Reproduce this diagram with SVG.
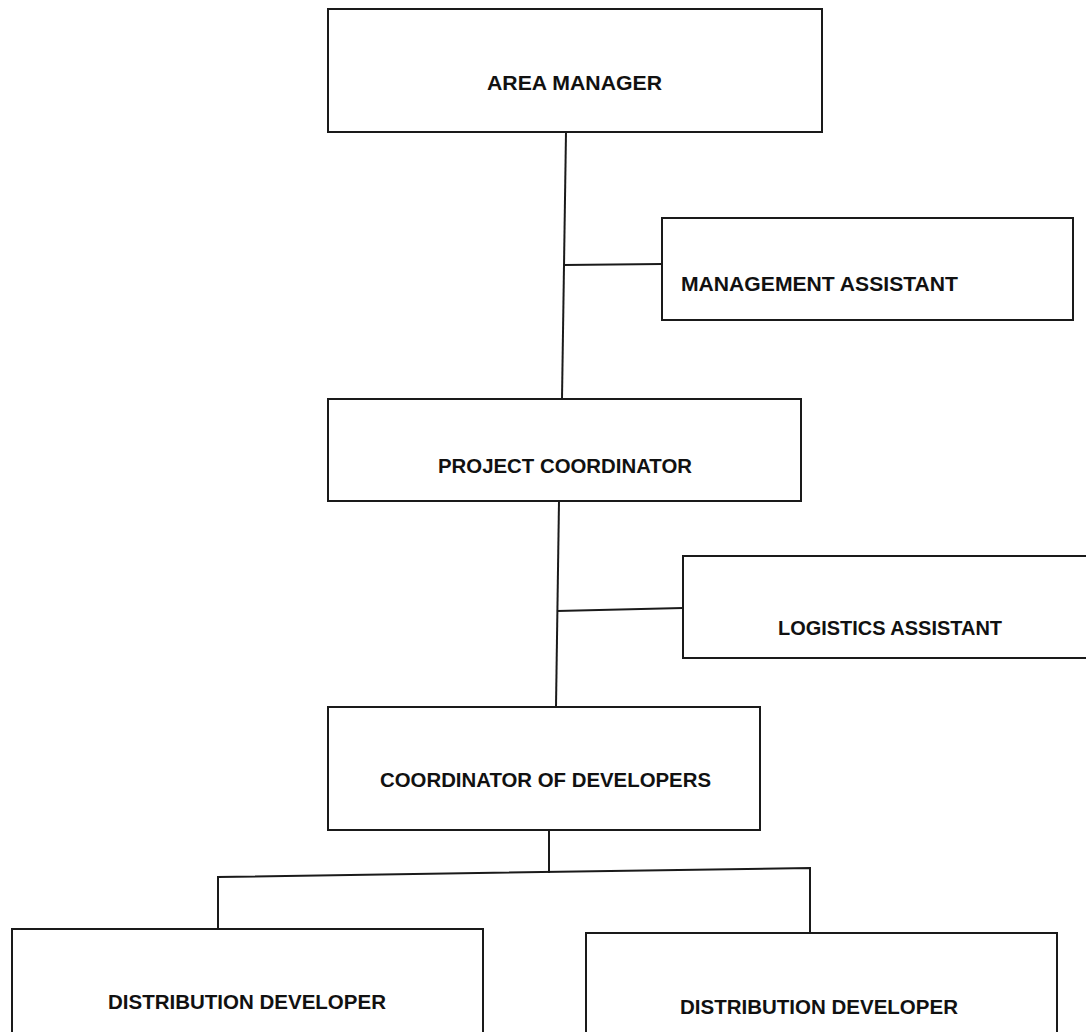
<svg xmlns="http://www.w3.org/2000/svg" width="1086" height="1032" viewBox="0 0 1086 1032">
<style>
.box{fill:#fff;stroke:#1a1a1a;stroke-width:2}
.lbl{font-family:"Liberation Sans","DejaVu Sans",sans-serif;font-weight:bold;font-size:21px;fill:#111}
.ln{stroke:#1a1a1a;stroke-width:2;fill:none}
</style>
<rect width="1086" height="1032" fill="#fff"/>
<g id="connectors">
<line class="ln" x1="566" y1="132" x2="562" y2="399"/>
<line class="ln" x1="564" y1="265" x2="662" y2="264"/>
<line class="ln" x1="559" y1="501" x2="556" y2="707"/>
<line class="ln" x1="557" y1="611" x2="683" y2="608"/>
<line class="ln" x1="549" y1="830" x2="549" y2="873"/>
<polyline class="ln" points="218,929 218,877 810,868 810,933"/>
</g>
<g id="area-manager">
<rect class="box" x="328" y="9" width="494" height="123"/>
<text class="lbl" x="487" y="90" textLength="175" lengthAdjust="spacingAndGlyphs">AREA MANAGER</text>
</g>
<g id="management-assistant">
<rect class="box" x="662" y="218" width="411" height="102"/>
<text class="lbl" x="681" y="291" textLength="277" lengthAdjust="spacingAndGlyphs">MANAGEMENT ASSISTANT</text>
</g>
<g id="project-coordinator">
<rect class="box" x="328" y="399" width="473" height="102"/>
<text class="lbl" x="438" y="473" textLength="254" lengthAdjust="spacingAndGlyphs">PROJECT COORDINATOR</text>
</g>
<g id="logistics-assistant">
<rect class="box" x="683" y="556" width="410" height="102"/>
<text class="lbl" x="778" y="635" textLength="224" lengthAdjust="spacingAndGlyphs">LOGISTICS ASSISTANT</text>
</g>
<g id="coordinator-of-developers">
<rect class="box" x="328" y="707" width="432" height="123"/>
<text class="lbl" x="380" y="787" textLength="331" lengthAdjust="spacingAndGlyphs">COORDINATOR OF DEVELOPERS</text>
</g>
<g id="distribution-developer-1">
<rect class="box" x="12" y="929" width="471" height="110"/>
<text class="lbl" x="108" y="1009" textLength="278" lengthAdjust="spacingAndGlyphs">DISTRIBUTION DEVELOPER</text>
</g>
<g id="distribution-developer-2">
<rect class="box" x="586" y="933" width="471" height="110"/>
<text class="lbl" x="680" y="1014" textLength="278" lengthAdjust="spacingAndGlyphs">DISTRIBUTION DEVELOPER</text>
</g>
</svg>
